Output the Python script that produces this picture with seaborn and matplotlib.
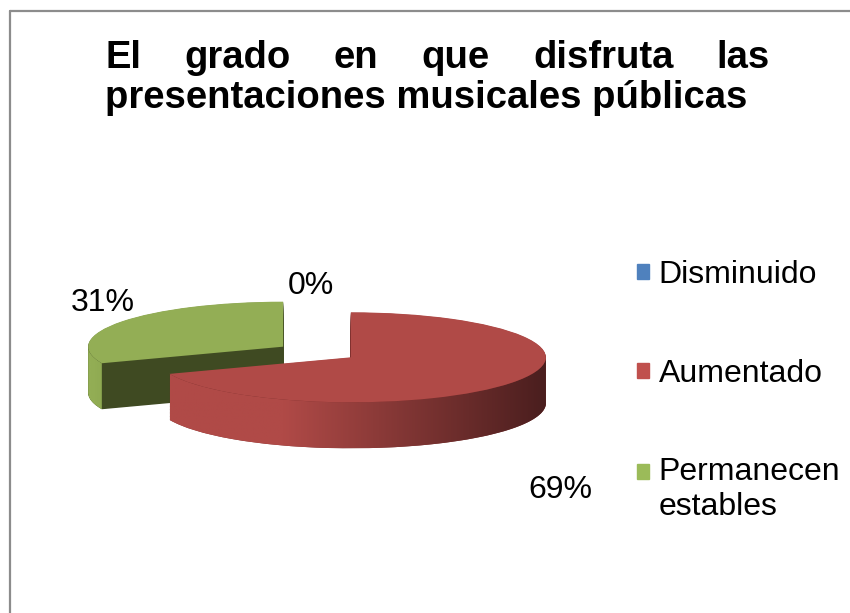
import numpy as np
import seaborn as sns
import matplotlib.pyplot as plt
import matplotlib.patches as mpatches
from matplotlib.colors import LinearSegmentedColormap
from matplotlib.lines import Line2D

# data
categories = ["Disminuido", "Aumentado", "Permanecen\nestables"]
values = [0, 69, 31]
title_line1 = ["El", "grado", "en", "que", "disfruta", "las"]
title_line2 = "presentaciones musicales públicas"

# colours (Excel 2007 style)
legend_colors = ["#4F81BD", "#C0504D", "#9BBB59"]
top_colors = ["#4F81BD", "#B04A47", "#93AE55"]
side_colors = ["#2E4C70", "#7A2E2C", "#3F4A22"]
wall_dark = ["#2A4466", "#4A1E1E", "#8FAA52"]

sns.set_theme(style="white")
plt.rcParams['font.family'] = ['Liberation Sans', 'DejaVu Sans']
plt.rcParams['text.color'] = 'black'

W, H = 850, 613
fig = plt.figure(figsize=(8.5, 6.13), dpi=100)

# pie axes: 1 x-unit = 195 px, 1 y-unit = 45 px (flattened 3d look)
cx, cy = 317, H - 352
xlim = (-1.6, 1.6)
ylim = (-3.5, 2.5)
ax = fig.add_axes([(cx + xlim[0] * 195) / W, (cy + ylim[0] * 45) / H,
                   (xlim[1] - xlim[0]) * 195 / W, (ylim[1] - ylim[0]) * 45 / H])

explode = [0.21, 0.21, 0.21]
depth = 46 / 45
for d in np.linspace(depth, 0.01, 60):
    ax.pie(values, colors=side_colors, startangle=90, counterclock=False,
           explode=explode, center=(0, -d),
           wedgeprops=dict(linewidth=0, antialiased=True))
wedges, _ = ax.pie(values, colors=top_colors, startangle=90, counterclock=False,
                   explode=explode, center=(0, 0),
                   wedgeprops=dict(linewidth=0, antialiased=True, zorder=3))

# shaded outer walls (front-facing part of each slice's rim)
grad = np.linspace(0, 1, 256)[None, :]
for w, top, dark in zip(wedges, top_colors, wall_dark):
    t = np.radians(np.linspace(w.theta1, w.theta2, 400))
    t = t[np.sin(t) < 0]
    if len(t) < 2:
        continue
    x0, y0 = w.center
    xs = x0 + w.r * np.cos(t)
    ys = y0 + w.r * np.sin(t)
    verts = np.vstack([np.column_stack([xs, ys]),
                       np.column_stack([xs[::-1], ys[::-1] - depth])])
    clip = mpatches.Polygon(verts, closed=True, transform=ax.transData)
    cmap = LinearSegmentedColormap.from_list("wall", [(0, top), (0.3, top), (1, dark)])
    im = ax.imshow(grad, cmap=cmap, aspect='auto', zorder=2,
                   extent=[xs.min(), xs.max(), ys.min() - depth, ys.max()])
    im.set_clip_path(clip)

ax.set_aspect('auto')
ax.set_xlim(*xlim)
ax.set_ylim(*ylim)
ax.axis('off')

# percentage labels
label_pos = [(-0.03, 1.47), (1.25, -3.07), (-1.1, 1.1)]
for v, (lx, ly) in zip(values, label_pos):
    ax.text(lx, ly, f"{v}%", ha='center', va='center', fontsize=23, color='black')

# legend
handles = [mpatches.Patch(color=c) for c in legend_colors]
leg = fig.legend(handles, categories, loc='upper left', bbox_to_anchor=(637 / W, 1 - 260 / H),
                 frameon=False, fontsize=23, handlelength=0.36, handleheight=0.36,
                 handletextpad=0.32, labelspacing=2.15, borderpad=0, borderaxespad=0,
                 labelcolor='black')
# put the last square beside the first line of its two-line label
last = leg.legend_handles[2]
last.set_y(last.get_y() + 0.58 * 23)

# justified title
title_kw = dict(va='baseline', fontsize=27.5, fontweight='bold', color='black')
left_px, right_px = 105, 770
words = [fig.text(0, 1 - 68 / H, wd, ha='left', **title_kw) for wd in title_line1]
renderer = fig.canvas.get_renderer()
widths = [t.get_window_extent(renderer).width for t in words]
gap = (right_px - left_px - sum(widths)) / (len(words) - 1)
x = left_px
for t, wdt in zip(words, widths):
    t.set_x(x / W)
    x += wdt + gap
fig.text(left_px / W, 1 - 108 / H, title_line2, ha='left', **title_kw)

# chart area border (left and top edges visible)
fig.add_artist(Line2D([10 / W, 10 / W], [0, 1 - 11 / H], transform=fig.transFigure,
                      color='#8C8C8C', lw=1.6))
fig.add_artist(Line2D([10 / W, 1], [1 - 11 / H, 1 - 11 / H], transform=fig.transFigure,
                      color='#8C8C8C', lw=1.6))

fig.savefig('out.png', dpi=100, facecolor='white')
